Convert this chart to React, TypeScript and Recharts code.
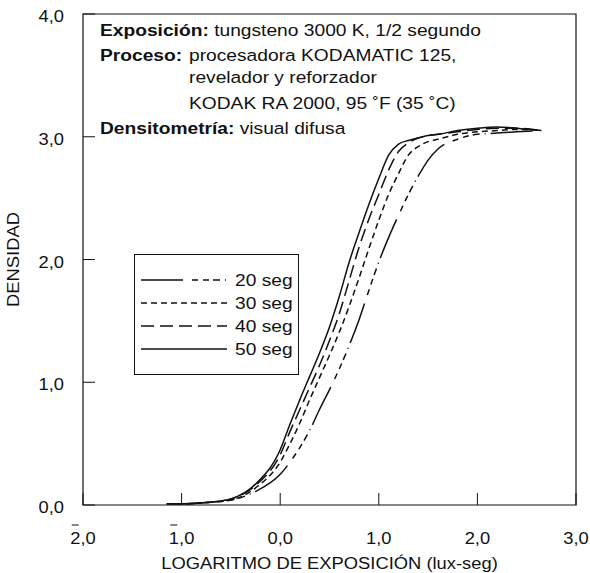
import { LineChart, Line, XAxis, YAxis, ReferenceArea, Legend } from "recharts"

// log exposure (lux-seg) sample points shared by all four curves
const logExposure = [-1.15, -1.0, -0.75, -0.5, -0.25, 0.0, 0.1, 0.2, 0.3, 0.4, 0.5, 0.6, 0.7, 0.8, 0.9, 1.0, 1.1, 1.2, 1.3, 1.4, 1.5, 1.6, 1.8, 2.0, 2.2, 2.4, 2.65]

const density20 = [0.01, 0.01, 0.02, 0.04, 0.11, 0.25, 0.35, 0.47, 0.61, 0.78, 0.94, 1.11, 1.3, 1.51, 1.75, 1.98, 2.18, 2.36, 2.53, 2.68, 2.81, 2.9, 2.98, 3.02, 3.03, 3.04, 3.05]
const density30 = [0.01, 0.01, 0.02, 0.04, 0.14, 0.35, 0.5, 0.67, 0.86, 1.04, 1.22, 1.41, 1.62, 1.85, 2.09, 2.32, 2.53, 2.7, 2.85, 2.92, 2.96, 2.98, 3.02, 3.04, 3.05, 3.06, 3.05]
const density40 = [0.01, 0.01, 0.02, 0.05, 0.16, 0.41, 0.6, 0.78, 0.96, 1.14, 1.34, 1.56, 1.83, 2.1, 2.33, 2.53, 2.73, 2.88, 2.95, 2.99, 3.01, 3.02, 3.04, 3.06, 3.07, 3.07, 3.05]
const density50 = [0.01, 0.01, 0.02, 0.05, 0.17, 0.45, 0.66, 0.86, 1.05, 1.24, 1.45, 1.7, 1.98, 2.22, 2.45, 2.66, 2.85, 2.94, 2.97, 2.99, 3.01, 3.02, 3.05, 3.07, 3.08, 3.07, 3.05]

const seriesNames = ["20 seg", "30 seg", "40 seg", "50 seg"]
const xTicks = [-2, -1, 0, 1, 2, 3]
const yTicks = [0, 1, 2, 3, 4]

const data = logExposure.map((x, i) => ({
  x,
  s20: density20[i],
  s30: density30[i],
  s40: density40[i],
  s50: density50[i],
}))

const FONT = "'Liberation Sans', Arial, Helvetica, sans-serif"
const FS = 17
const INK = "#111"

// dash styles, same order as seriesNames
const dashes = ["42 9 6 5 6 4 7 5 1 5", "6 4", "13 6", undefined]
const keys = ["s20", "s30", "s40", "s50"]

// the original lettering is a bit wider than Helvetica, so stretch it horizontally
const T = ({ x, y, sx = 1.13, anchor = "start", bold = false, children }: any) => (
  <text
    transform={`translate(${x} ${y}) scale(${sx} 1)`}
    textAnchor={anchor}
    fontSize={FS}
    fontFamily={FONT}
    fontWeight={bold ? "bold" : "normal"}
    fill={INK}
  >
    {children}
  </text>
)

const XTick = (props: any) => {
  const { x, y, payload } = props
  const v = payload.value
  const label = `${Math.abs(v)},0`
  const w = FS * 1.08 * (0.556 + 0.278 + 0.556)
  const start = x - w / 2
  return (
    <g>
      <line x1={x} x2={x} y1={y} y2={y - 12} stroke={INK} strokeWidth={1} />
      <T x={x} y={y + 39} sx={1.08} anchor="middle">
        {label}
      </T>
      {v < 0 && <line x1={start + 1.5} x2={start + 8.5} y1={y + 20} y2={y + 20} stroke={INK} strokeWidth={1} />}
    </g>
  )
}

const YTick = (props: any) => {
  const { x, y, payload } = props
  return (
    <g>
      <line x1={x} x2={x + 12} y1={y} y2={y} stroke={INK} strokeWidth={1} />
      <T x={x - 19} y={y + 8} sx={1.08} anchor="end">
        {`${payload.value},0`}
      </T>
    </g>
  )
}

const LegendBox = () => (
  <div
    style={{
      width: 165,
      height: 121,
      border: `1.2px solid ${INK}`,
      boxSizing: "border-box",
      background: "#fff",
    }}
  >
    <svg width={163} height={119}>
      {seriesNames.map((name, i) => {
        const cy = 25 + i * 23
        return (
          <g key={name}>
            <line x1={6} x2={92} y1={cy} y2={cy} stroke={INK} strokeWidth={1.5} strokeDasharray={dashes[i]} />
            <T x={100} y={cy + 6}>
              {name}
            </T>
          </g>
        )
      })}
    </svg>
  </div>
)

export default function App() {
  return (
    <div style={{ position: "absolute", left: 0, top: 0, width: 590, height: 573, background: "#fff" }}>
      <LineChart width={590} height={573} data={data} margin={{ top: 14, right: 14, left: 0, bottom: 0 }}>
        <XAxis
          dataKey="x"
          type="number"
          domain={[-2, 3]}
          ticks={xTicks}
          height={68}
          axisLine={false}
          tickLine={false}
          tickSize={0}
          tickMargin={0}
          tick={<XTick />}
          interval={0}
          label={({ viewBox }: any) => (
            <T x={viewBox.x + viewBox.width / 2} y={viewBox.y + 64} sx={1.08} anchor="middle">
              LOGARITMO DE EXPOSICIÓN (lux-seg)
            </T>
          )}
        />
        <YAxis
          type="number"
          domain={[0, 4]}
          ticks={yTicks}
          width={83}
          axisLine={false}
          tickLine={false}
          tickSize={0}
          tickMargin={0}
          tick={<YTick />}
          interval={0}
          label={({ viewBox }: any) => {
            const cx = 19
            const cy = viewBox.y + viewBox.height / 2
            return (
              <text
                transform={`translate(${cx} ${cy}) rotate(-90) scale(1.08 1)`}
                textAnchor="middle"
                fontSize={FS}
                fontFamily={FONT}
                fill={INK}
              >
                DENSIDAD
              </text>
            )
          }}
        />
        <ReferenceArea x1={-2} x2={3} y1={0} y2={4} fill="none" stroke={INK} strokeWidth={1.2} ifOverflow="visible" />
        {keys.map((k, i) => (
          <Line
            key={k}
            dataKey={k}
            name={seriesNames[i]}
            type="monotone"
            stroke={INK}
            strokeWidth={1.5}
            strokeDasharray={dashes[i]}
            dot={false}
            activeDot={false}
            isAnimationActive={false}
          />
        ))}
        <Legend
          layout="vertical"
          align="center"
          verticalAlign="middle"
          content={() => <LegendBox />}
          wrapperStyle={{ left: 134, top: 254, width: 165, height: 121, bottom: "auto", right: "auto" }}
        />
      </LineChart>
      <svg width={590} height={200} style={{ position: "absolute", left: 0, top: 0, pointerEvents: "none" }}>
        <T x={100} y={36}>
          <tspan fontWeight="bold">Exposición:</tspan> tungsteno 3000 K, 1/2 segundo
        </T>
        <T x={100} y={61} bold>
          Proceso:
        </T>
        <T x={189} y={61}>
          procesadora KODAMATIC 125,
        </T>
        <T x={189} y={83}>
          revelador y reforzador
        </T>
        <T x={189} y={109}>
          KODAK RA 2000, 95 ˚F (35 ˚C)
        </T>
        <T x={100} y={134}>
          <tspan fontWeight="bold">Densitometría:</tspan> visual difusa
        </T>
      </svg>
    </div>
  )
}
